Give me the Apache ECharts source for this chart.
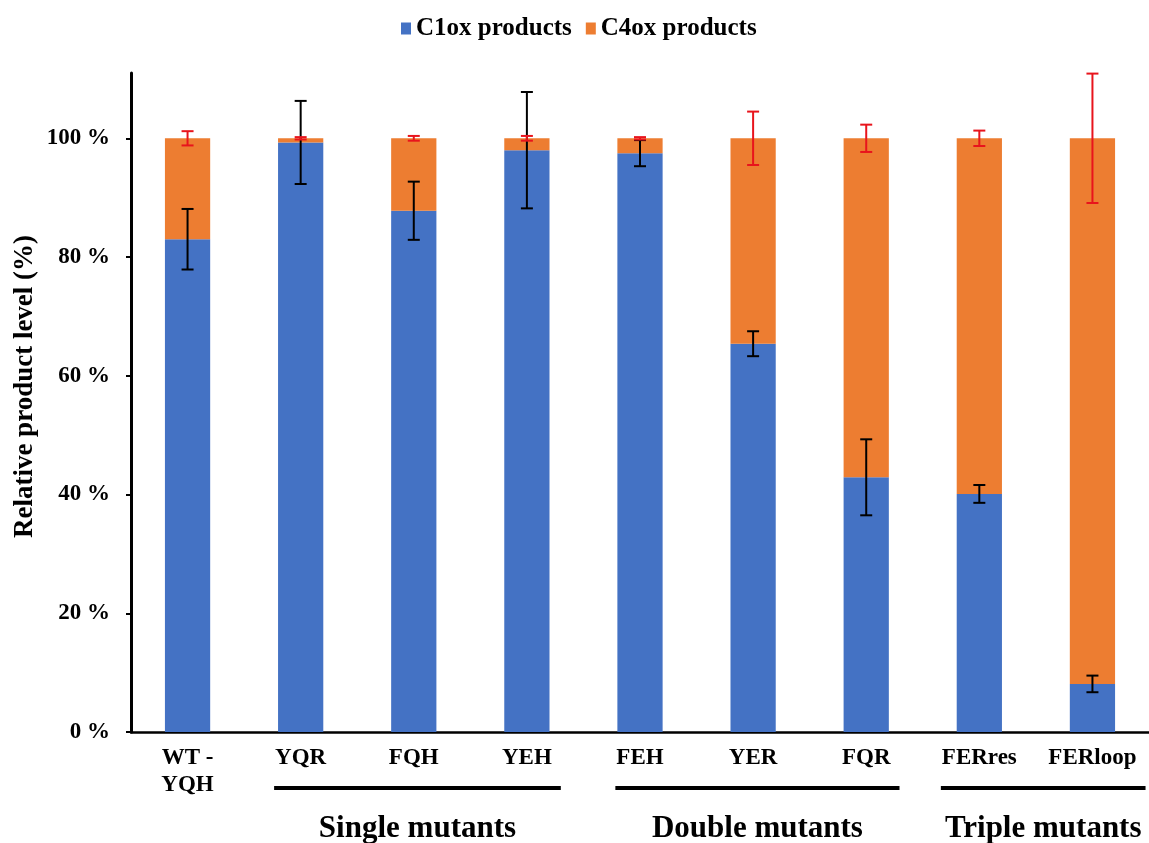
<!DOCTYPE html>
<html><head><meta charset="utf-8">
<script src="https://cdn.jsdelivr.net/npm/echarts@6/dist/echarts.min.js"></script>
<style>html,body{margin:0;padding:0;background:#fff}#c{width:1149px;height:843px}</style>
</head><body><div id="c"></div>
<script>
const categories = ['WT -\nYQH','YQR','FQH','YEH','FEH','YER','FQR','FERres','FERloop'];
const c1ox    = [83.0, 99.3, 87.8, 98.0, 97.5, 65.4, 42.9, 40.1, 8.1];
const c1oxErr = [5.1, 7.0, 4.9, 9.8, 2.2, 2.1, 6.4, 1.5, 1.4];
const c4ox    = [17.0, 0.7, 12.2, 2.0, 2.5, 34.6, 57.1, 59.9, 91.9];
const c4oxErr = [1.2, 0.2, 0.4, 0.4, 0.2, 4.5, 2.3, 1.3, 10.9];
const groupNames = ['Single mutants','Double mutants','Triple mutants'];
const groupFrom  = [1, 4, 7];
const groupTo    = [3, 6, 8];
const yTicks = [0, 20, 40, 60, 80, 100];
const yMax = 111;
const yTitle = 'Relative product level (%)';

const FONT = '"Liberation Serif","Times New Roman",serif';
const BLUE = '#4472C4', ORANGE = '#ED7D31';

function errData(vals, errs, base) {
  return vals.map((v, i) => [i, base ? base[i] + v : v, errs[i]]);
}
function errRender(color) {
  return function (params, api) {
    const x = api.value(0), c = api.value(1), e = api.value(2);
    const top = api.coord([x, c + e]);
    const bot = api.coord([x, c - e]);
    const hw = 6;
    const style = { stroke: color, lineWidth: 2 };
    return { type: 'group', children: [
      { type: 'line', shape: { x1: top[0], y1: top[1], x2: bot[0], y2: bot[1] }, style },
      { type: 'line', shape: { x1: top[0]-hw, y1: top[1], x2: top[0]+hw, y2: top[1] }, style },
      { type: 'line', shape: { x1: bot[0]-hw, y1: bot[1], x2: bot[0]+hw, y2: bot[1] }, style }
    ]};
  };
}

const chart = echarts.init(document.getElementById('c'));
const option = {
  backgroundColor: '#fff',
  animation: false,
  legend: {
    data: ['C1ox products', 'C4ox products'],
    top: 11, left: 396,
    icon: 'rect',
    itemWidth: 10, itemHeight: 12, itemGap: 14,
    textStyle: { fontFamily: FONT, fontWeight: 'bold', fontSize: 25, color: '#000' }
  },
  grid: { left: 131, right: -6, top: 73, bottom: 111, containLabel: false },
  xAxis: {
    type: 'category', data: categories,
    axisLine: { lineStyle: { color: '#000', width: 2.5 } },
    axisTick: { show: false },
    axisLabel: { margin: 13, lineHeight: 27, fontFamily: FONT, fontWeight: 'bold', fontSize: 23, color: '#000', interval: 0 }
  },
  yAxis: {
    type: 'value', min: 0, max: yMax,
    axisLine: { show: true, lineStyle: { color: '#000', width: 3 } },
    axisTick: { show: true, length: 5, lineStyle: { color: '#000', width: 2 }, customValues: yTicks },
    axisLabel: { margin: 21, fontFamily: FONT, fontWeight: 'bold', fontSize: 23, color: '#000',
      customValues: yTicks, formatter: v => v + ' %' },
    splitLine: { show: false }
  },
  series: [
    { name: 'C1ox products', type: 'bar', stack: 'a', data: c1ox, barWidth: '40%', itemStyle: { color: BLUE } },
    { name: 'C4ox products', type: 'bar', stack: 'a', data: c4ox, barWidth: '40%', itemStyle: { color: ORANGE } },
    { type: 'custom', name: 'c1err', renderItem: errRender('#000'), data: errData(c1ox, c1oxErr), z: 10,
      encode: { x: 0, y: 1 } },
    { type: 'custom', name: 'c4err', renderItem: errRender('#E8141C'), data: errData(c4ox, c4oxErr, c1ox), z: 10,
      encode: { x: 0, y: 1 } }
  ]
};
chart.setOption(option);

// group underlines and labels, positioned from the category axis
const ctx = document.createElement('canvas').getContext('2d');
ctx.font = 'bold 23px ' + FONT;
function labelWidth(s) { return Math.max(...s.split('\n').map(t => ctx.measureText(t).width)); }
const axisY = chart.convertToPixel({ yAxisIndex: 0 }, 0);
const gfx = [];
groupNames.forEach((name, g) => {
  const a = groupFrom[g], b = groupTo[g];
  const xa = chart.convertToPixel({ xAxisIndex: 0 }, categories[a]) - labelWidth(categories[a]) / 2 - 1;
  const xb = chart.convertToPixel({ xAxisIndex: 0 }, categories[b]) + labelWidth(categories[b]) / 2 + 9;
  gfx.push({ type: 'line', shape: { x1: xa, y1: axisY + 56, x2: xb, y2: axisY + 56 },
    style: { stroke: '#000', lineWidth: 4 } });
  gfx.push({ type: 'text', x: (xa + xb) / 2, y: axisY + 97,
    style: { text: name, font: 'bold 31px ' + FONT, fill: '#000', textAlign: 'center', textVerticalAlign: 'middle' } });
});
const midY = (chart.convertToPixel({ yAxisIndex: 0 }, 0) + chart.convertToPixel({ yAxisIndex: 0 }, yMax)) / 2;
gfx.push({ type: 'text', x: 25, y: midY - 16, rotation: Math.PI / 2,
  style: { text: yTitle, font: 'bold 27px ' + FONT, fill: '#000', textAlign: 'center', textVerticalAlign: 'middle' } });
chart.setOption({ graphic: gfx });
</script>
</body></html>
